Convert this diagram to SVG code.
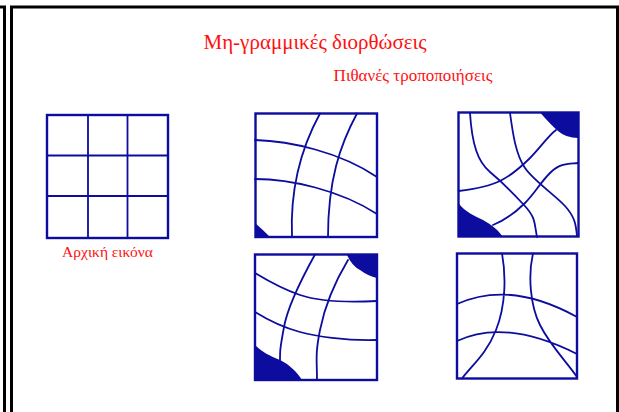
<svg xmlns="http://www.w3.org/2000/svg" width="619" height="412" viewBox="0 0 619 412">
<style>
.t{font-family:"Liberation Serif","Times New Roman",serif;fill:#ff1010}
.box{fill:none;stroke:#0c0c9e;stroke-width:2.4}
.ln{fill:none;stroke:#0c0c9e;stroke-width:1.8;stroke-linecap:round}
.fl{fill:#0c0c9e;stroke:none}
.fr{fill:none;stroke:#000;stroke-width:3}
</style>
<rect width="619" height="412" fill="#fff"/>
<g id="frame">
<path class="fr" d="M0,7 H4.5 V412"/>
<path class="fr" d="M11.5,412 V7 H617.5 V412"/>
</g>
<g id="title"><text class="t" x="315" y="49" font-size="21" text-anchor="middle">Μη-γραμμικές διορθώσεις</text></g>
<g id="subtitle"><text class="t" x="413" y="81" font-size="17" text-anchor="middle">Πιθανές τροποποιήσεις</text></g>
<g id="original">
<rect class="box" x="47" y="115" width="121" height="123"/>
<path class="ln" d="M88,115 V238 M127.5,115 V238 M47,155.5 H168 M47,196 H168"/>
<text class="t" x="107.5" y="257" font-size="15.5" text-anchor="middle">Αρχική εικόνα</text>
</g>
<g id="mod1">
<path class="fl" d="M255,223 Q262,229 270,237 L255,237 Z"/>
<path class="ln" d="M320,113.5 C300,150 290,190 292,237 M357,113.5 C340,145 328,180 328,237 M255,140 C290,141 340,152 377,177 M255,179 C290,179 340,190 377,214"/>
<rect class="box" x="255.5" y="113.5" width="121.5" height="123.5"/>
</g>
<g id="mod2">
<path class="fl" d="M540,112.5 Q552,126 558,131 Q566,138 578,138 L578,112.5 Z"/>
<path class="fl" d="M458.5,203 C465,212 475,216 483,220 C492,225 498,230 503,237 L458.5,237 Z"/>
<path class="ln" d="M470,113 C472,145 478,162 490,172 S512,192 524,205 S534,222 537,237 M510,113 C513,135 516,155 525,168 S555,195 565,206 S576,225 577,236 M458.5,191 C475,189 490,186 500,181 S520,168 530,158 S548,136 556,130 M493,225 C505,220 515,213 525,203 S540,183 550,173 S568,164 578,163"/>
<rect class="box" x="458.5" y="112.5" width="120" height="124"/>
</g>
<g id="mod3">
<path class="fl" d="M346.7,254.5 Q352,266 360,270 Q368,276 377,278 L377,254.5 Z"/>
<path class="fl" d="M255,345 C262,352 270,356 280,360 C290,365 297,372 302,380 L255,380 Z"/>
<path class="ln" d="M315,254.5 C302,278 288,305 284,327 S280,350 280,361 M348,260 C336,280 325,305 320,330 S317,360 317,380 M255,273 C270,282 285,290 300,295 S340,303 377,301 M255,312 C268,320 285,328 300,332 S345,341 377,340"/>
<rect class="box" x="255" y="254.5" width="122" height="125.5"/>
</g>
<g id="mod4">
<path class="ln" d="M502,253.5 C506,275 506,305 496,330 S472,365 462,378.5 M533,253.5 C528,275 530,305 540,325 S565,360 577,377 M457,304 Q510,280 577,317 M457,341 Q505,318 577,354"/>
<rect class="box" x="457" y="253.5" width="120" height="125"/>
</g>
</svg>
